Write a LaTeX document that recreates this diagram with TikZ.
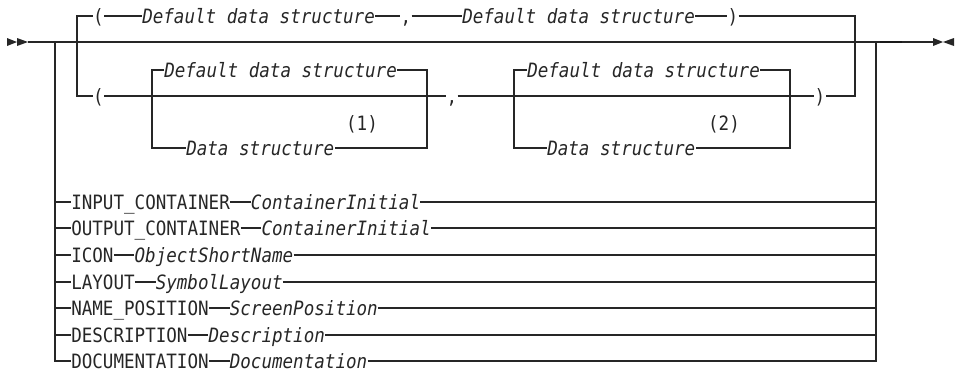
\documentclass[tikz,border=0pt]{standalone}
\usepackage{fontspec}
\setmonofont[FakeStretch=0.89]{DejaVu Sans Mono}
\usetikzlibrary{positioning}

\tikzset{
  rail/.style={line width=0.8pt, draw=black!85},
  txt/.style={inner sep=0pt, text height=10.8pt, text depth=0pt, text=black!85,
    font=\fontsize{14.8}{17}\selectfont\ttfamily},
  kwd/.style={txt, anchor=west},
  var/.style={txt, anchor=west, font=\fontsize{14.8}{17}\selectfont\ttfamily\itshape},
  sym/.style={txt},
}

\begin{document}
\begin{tikzpicture}[x=0.75pt, y=-0.75pt]
\useasboundingbox (0,0) rectangle (959,369);

% start and end marks
\fill[black!85] (7,38) -- (17,42) -- (7,46) -- cycle;
\fill[black!85] (17,38) -- (28,42) -- (17,46) -- cycle;
\fill[black!85] (933,38) -- (943,42) -- (933,46) -- cycle;
\fill[black!85] (954,38) -- (943,42) -- (954,46) -- cycle;

\coordinate (start) at (28,42);
\coordinate (stop) at (933,42);
\draw[rail] (start) -- (stop);
\draw[line width=1.8pt, black!90] (880,42) -- (902,42);

% upper group: ( ... , ... )
\coordinate (ul) at (77,16);
\coordinate (ll) at (77,96);
\coordinate (ur) at (855,16);
\coordinate (lr) at (855,96);

\node[sym] (opA) at (98.5,16) {(};
\node[var] (dfT1) at (142,16) {Default data structure};
\node[sym] (cmA) at (406,16) {,};
\node[var] (dfT2) at (462,16) {Default data structure};
\node[sym] (cpA) at (733,16) {)};

\node[sym] (opB) at (98.5,96) {(};
\node[sym] (cmB) at (452,96) {,};
\node[sym] (cpB) at (820,96) {)};

\draw[rail] (opA.west) -- (ul) -- (ll) -- (opB.west);
\draw[rail] (cpA.east) -- (ur) -- (lr) -- (cpB.east);
\draw[rail] (opA.east) -- (dfT1.west);
\draw[rail] (dfT1.east) -- (cmA.west);
\draw[rail] (cmA.east) -- (dfT2.west);
\draw[rail] (dfT2.east) -- (cpA.west);
\draw[rail] (opB.east) -- (cmB.west);
\draw[rail] (cmB.east) -- (cpB.west);

% first choice box
\coordinate (bAtl) at (152,70);
\coordinate (bAbl) at (152,148);
\coordinate (bAtr) at (427,70);
\coordinate (bAbr) at (427,148);
\node[var] (dfA) at (164,70) {Default data structure};
\node[var] (dsA) at (186,148) {Data structure};
\node[sym] (ntA) at (362,123) {(1)};
\draw[rail] (dfA.west) -- (bAtl) -- (bAbl) -- (dsA.west);
\draw[rail] (dfA.east) -- (bAtr) -- (bAbr) -- (dsA.east);

% second choice box
\coordinate (bBtl) at (514,70);
\coordinate (bBbl) at (514,148);
\coordinate (bBtr) at (790,70);
\coordinate (bBbr) at (790,148);
\node[var] (dfB) at (527,70) {Default data structure};
\node[var] (dsB) at (547,148) {Data structure};
\node[sym] (ntB) at (724,123) {(2)};
\draw[rail] (dfB.west) -- (bBtl) -- (bBbl) -- (dsB.west);
\draw[rail] (dfB.east) -- (bBtr) -- (bBbr) -- (dsB.east);

% lower options
\coordinate (jl) at (55,42);
\coordinate (jr) at (876,42);
\foreach \kw/\val/\rowy [count=\i from 0] in {INPUT\_CONTAINER/ContainerInitial/202,
    OUTPUT\_CONTAINER/ContainerInitial/228, ICON/ObjectShortName/255,
    LAYOUT/SymbolLayout/282, NAME\_POSITION/ScreenPosition/308,
    DESCRIPTION/Description/335, DOCUMENTATION/Documentation/361}{
  \coordinate (l\i) at (55,\rowy);
  \coordinate (r\i) at (876,\rowy);
  \node[kwd] (k\i) at (71,\rowy) {\kw};
  \node[var, right=15.4pt of k\i] (v\i) {\val};
  \draw[rail] (l\i) -- (k\i.west);
  \draw[rail] (k\i.east) -- (v\i.west);
  \draw[rail] (v\i.east) -- (r\i);
}
\draw[rail] (jl) |- (k6.west);
\draw[rail] (jr) |- (v6.east);
\end{tikzpicture}
\end{document}
